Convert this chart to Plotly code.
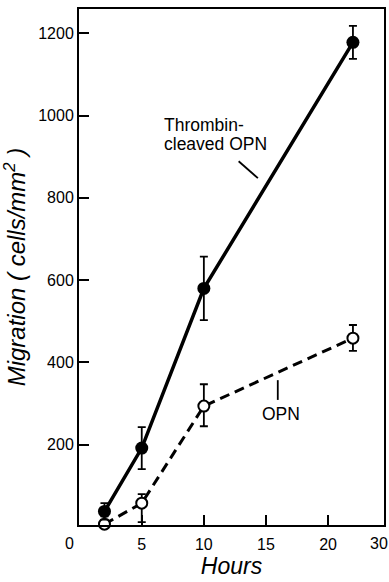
import plotly.graph_objects as go

hours = [2, 5, 10, 22]
thrombin_opn = [38, 192, 580, 1178]
thrombin_err = [20, 51, 77, 40]
opn = [7, 58, 294, 459]
opn_err_plus = [19, 22, 53, 32]
opn_err_minus = [19, 46, 49, 31]

x_tickvals = [5, 10, 15, 20]
x_ticktext = ["5", "10", "15", "20"]
y_tickvals = [200, 400, 600, 800, 1000, 1200]

FONT = "Liberation Sans, Arial, sans-serif"

fig = go.Figure()
fig.add_trace(go.Scatter(
    x=hours, y=opn, mode="lines+markers",
    line=dict(color="black", width=3, dash="10px,6px"),
    marker=dict(symbol="circle", size=11, color="white", line=dict(color="black", width=2)),
    error_y=dict(type="data", array=opn_err_plus, arrayminus=opn_err_minus,
                 symmetric=False, color="black", thickness=1.8, width=4),
    cliponaxis=False, showlegend=False))
fig.add_trace(go.Scatter(
    x=hours, y=thrombin_opn, mode="lines+markers",
    line=dict(color="black", width=3.5),
    marker=dict(symbol="circle", size=13, color="black"),
    error_y=dict(type="data", array=thrombin_err, color="black", thickness=1.8, width=4),
    cliponaxis=False, showlegend=False))

fig.add_annotation(x=6.65, y=977, xref="x", yref="y", text="Thrombin-",
                   showarrow=False, xanchor="left", yanchor="middle", align="left",
                   font=dict(family=FONT, size=17.5, color="black"))
fig.add_annotation(x=6.65, y=931, xref="x", yref="y", text="cleaved OPN",
                   showarrow=False, xanchor="left", yanchor="middle", align="left",
                   font=dict(family=FONT, size=17.5, color="black"))
fig.add_annotation(x=16.2, y=275, xref="x", yref="y", text="OPN",
                   showarrow=False, xanchor="center", yanchor="middle",
                   font=dict(family=FONT, size=17.5, color="black"))
# end tick labels of the x axis, placed as in the reference
fig.add_annotation(x=0, y=0, xref="paper", yref="paper", xshift=-10, yshift=-8, text="0",
                   showarrow=False, xanchor="center", yanchor="top",
                   font=dict(family=FONT, size=16, color="black"))
fig.add_annotation(x=0.984, y=0, xref="paper", yref="paper", yshift=-8, text="30",
                   showarrow=False, xanchor="center", yanchor="top",
                   font=dict(family=FONT, size=16, color="black"))

fig.add_shape(type="line", x0=12.8, y0=889, x1=14.35, y1=848, xref="x", yref="y",
              line=dict(color="black", width=1.8))
fig.add_shape(type="line", x0=15.95, y0=357, x1=15.95, y1=309, xref="x", yref="y",
              line=dict(color="black", width=1.8))

fig.update_xaxes(range=[-0.05, 24.5], tickvals=x_tickvals, ticktext=x_ticktext,
                 ticks="inside", ticklen=10, tickwidth=2, tickcolor="black",
                 showline=True, linecolor="black", linewidth=2, mirror=True,
                 showgrid=False, zeroline=False, ticklabelstandoff=4,
                 tickfont=dict(family=FONT, size=16, color="black"),
                 title=dict(text="<i>Hours</i>", standoff=6,
                            font=dict(family=FONT, size=23, color="black")))
fig.update_yaxes(range=[5, 1259], tickvals=y_tickvals,
                 ticks="inside", ticklen=10, tickwidth=2, tickcolor="black",
                 showline=True, linecolor="black", linewidth=2, mirror=True,
                 showgrid=False, zeroline=False,
                 tickfont=dict(family=FONT, size=16, color="black"),
                 title=dict(text="<i>Migration ( cells/mm<sup>2</sup> )</i>", standoff=8,
                            font=dict(family=FONT, size=24, color="black")))

fig.update_layout(width=389, height=582, margin=dict(l=79, r=3, t=9, b=57),
                  plot_bgcolor="white", paper_bgcolor="white")

fig.write_html("out.html")
